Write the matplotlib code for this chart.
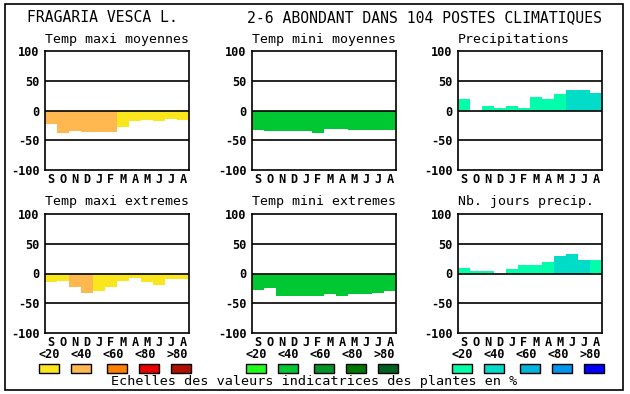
import matplotlib
matplotlib.use("Agg")
import matplotlib.pyplot as plt
from matplotlib.patches import Rectangle

plt.rcParams['font.family'] = ['DejaVu Sans Mono']

months = ["S", "O", "N", "D", "J", "F", "M", "A", "M", "J", "J", "A"]
yticks = [-100, -50, 0, 50, 100]
legend_labels = ["<20", "<40", "<60", "<80", ">80"]

title_left = "FRAGARIA VESCA L."
title_right = "2-6 ABONDANT DANS 104 POSTES CLIMATIQUES"
footer = "Echelles des valeurs indicatrices des plantes en %"

panel_titles = ["Temp maxi moyennes", "Temp mini moyennes", "Precipitations",
                "Temp maxi extremes", "Temp mini extremes", "Nb. jours precip."]

temp_maxi_moy = [-23, -37, -34, -36, -36, -36, -27, -18, -16, -17, -14, -16]
temp_mini_moy = [-32, -35, -35, -35, -35, -37, -31, -31, -32, -33, -32, -32]
precipitations = [20, 0, 7, 5, 7, 5, 23, 20, 27, 35, 35, 30]
temp_maxi_ext = [-15, -13, -23, -33, -30, -23, -12, -7, -15, -20, -10, -10]
temp_mini_ext = [-27, -25, -37, -37, -37, -37, -34, -37, -34, -35, -32, -30]
nb_jours_precip = [10, 4, 4, 0, 7, 14, 15, 20, 30, 32, 22, 22]

lvl_maxi_moy = [1, 1, 1, 1, 1, 1, 0, 0, 0, 0, 0, 0]
lvl_mini_moy = [1] * 12
lvl_precip = [0, 0, 0, 0, 0, 0, 0, 0, 0, 1, 1, 1]
lvl_maxi_ext = [0, 0, 1, 1, 0, 0, 0, 0, 0, 0, 0, 0]
lvl_mini_ext = [1] * 12
lvl_jours = [0, 0, 0, 0, 0, 0, 0, 0, 1, 1, 1, 0]

warm = ["#fae61c", "#ffb850", "#ff8000", "#e80000", "#b01000"]
greens = ["#1eff1e", "#00c832", "#009628", "#007800", "#006020"]
blues = ["#00ffaa", "#00dcc8", "#00b4dc", "#0096f0", "#0000ff"]

values = [temp_maxi_moy, temp_mini_moy, precipitations,
          temp_maxi_ext, temp_mini_ext, nb_jours_precip]
levels = [lvl_maxi_moy, lvl_mini_moy, lvl_precip,
          lvl_maxi_ext, lvl_mini_ext, lvl_jours]
palettes = [warm, greens, blues, warm, greens, blues]

W, H = 630, 394
fig = plt.figure(figsize=(W / 100, H / 100), dpi=100)

# outer border
fig.patches.append(Rectangle((5 / W, 1 - 390 / H), 618 / W, 386 / H,
                             transform=fig.transFigure, fill=False,
                             edgecolor="black", lw=1.2))

fig.text(27 / W, 1 - 18 / H, title_left, fontsize=10.6, ha="left", va="center")
fig.text(602 / W, 1 - 18 / H, title_right, fontsize=10.6, ha="right", va="center")

lefts = [45, 252, 458]
tops = [51, 214]
aw, ah = 144, 119

for i in range(6):
    r, c = divmod(i, 3)
    left = lefts[c]
    top = tops[r]
    ax = fig.add_axes([left / W, 1 - (top + ah) / H, aw / W, ah / H])
    cols = [palettes[i][k] for k in levels[i]]
    ax.bar(range(12), values[i], width=1.0, color=cols, edgecolor="none", zorder=1)
    for yv in (50, 0, -50):
        ax.axhline(yv, color="black", lw=1.2, zorder=3)
    ax.set_xlim(-0.5, 11.5)
    ax.set_ylim(-100, 100)
    ax.set_yticks(yticks)
    ax.set_yticklabels([str(v) for v in yticks], fontsize=8.6, fontweight="bold")
    ax.set_xticks(range(12))
    ax.set_xticklabels(months, fontsize=8.6, fontweight="bold")
    ax.tick_params(length=0, pad=4)
    ax.tick_params(axis="x", pad=2)
    for s in ax.spines.values():
        s.set_linewidth(1.2)
    fig.text(left / W, 1 - (top - 12) / H, panel_titles[i], fontsize=9.5,
             ha="left", va="center")

# legends
rect_offsets = [4, 36, 72, 104, 136]
label_offsets = [4, 36, 68, 100, 132]
for c in range(3):
    pal = [warm, greens, blues][c]
    for k in range(5):
        cx = lefts[c] + rect_offsets[k]
        fig.patches.append(Rectangle(((cx - 10) / W, 1 - 373 / H), 20 / W, 9 / H,
                                     transform=fig.transFigure,
                                     facecolor=pal[k], edgecolor="black", lw=1))
        fig.text((lefts[c] + label_offsets[k]) / W, 1 - 354 / H, legend_labels[k],
                 fontsize=8.6, fontweight="bold", ha="center", va="center")

fig.text(314 / W, 1 - 382 / H, footer, fontsize=9.7, ha="center", va="center")

fig.savefig("out.png", dpi=100)
